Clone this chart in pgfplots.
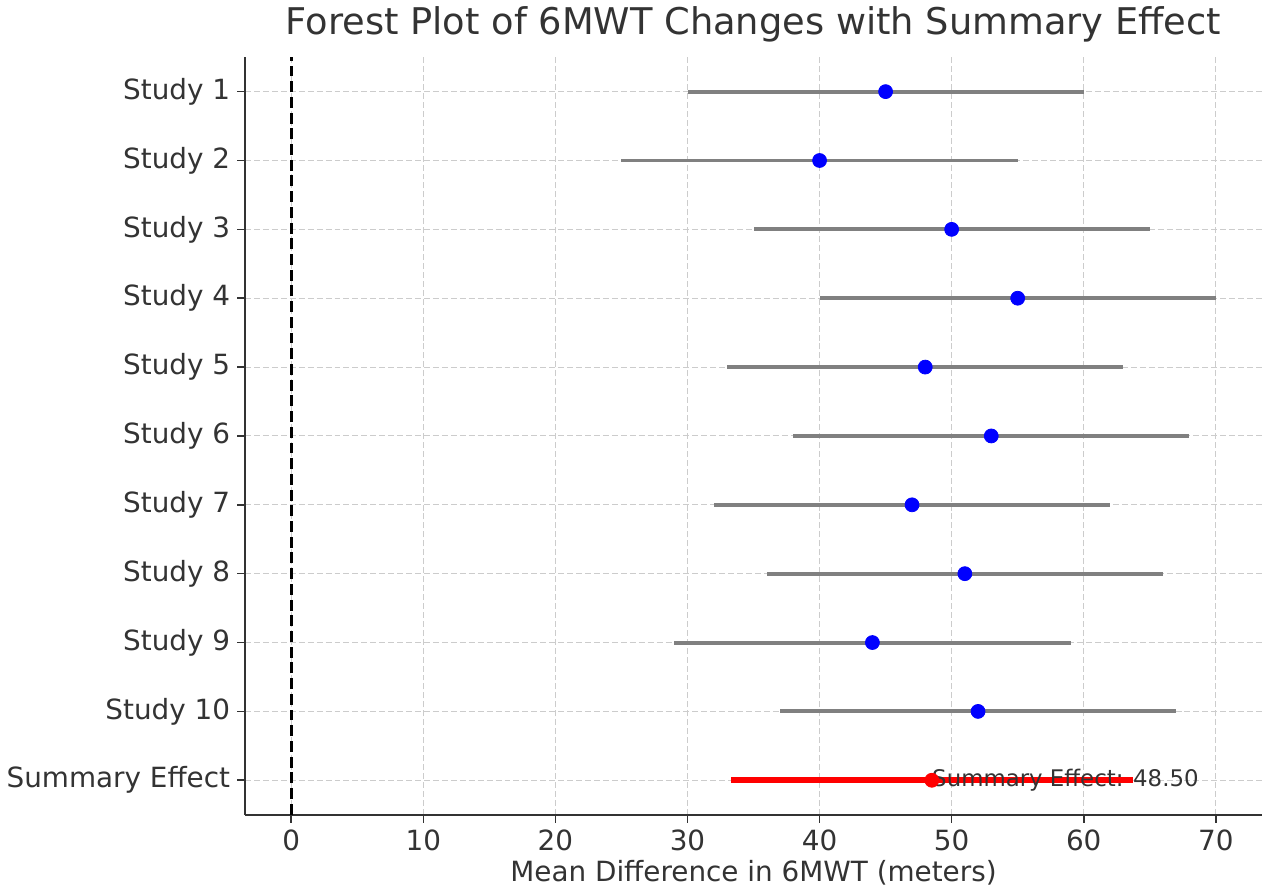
\documentclass[border=0pt]{standalone}
\usepackage{fontspec}
\setmainfont{DejaVu Sans}
\usepackage{pgfplots}
\pgfplotsset{compat=1.18}
\definecolor{txt}{HTML}{333333}
\definecolor{cigray}{HTML}{808080}
\definecolor{gridgray}{HTML}{CCCCCC}

\pgfplotstableread{
y mean err
10 45 15
9 40 15
8 50 15
7 55 15
6 48 15
5 53 15
4 47 15
3 51 15
2 44 15
1 52 15
}\studies

\begin{document}
\begin{tikzpicture}
\begin{axis}[
    scale only axis,
    width=511.5pt, height=381pt,
    xmin=-3.5, xmax=73.5,
    ymin=-0.5, ymax=10.5,
    axis lines*=left,
    axis line style={draw=txt, line width=1pt},
    xtick={0,10,...,70},
    ytick={0,...,10},
    yticklabels={Summary Effect, Study 10, Study 9, Study 8, Study 7, Study 6, Study 5, Study 4, Study 3, Study 2, Study 1},
    tick align=outside,
    tick style={draw=txt, line width=0.8pt},
    major tick length=4pt,
    tick label style={font=\fontsize{14}{16}\selectfont, text=txt},
    /pgf/number format/assume math mode=true,
    grid=major,
    grid style={draw=gridgray, line width=0.5pt, dash pattern=on 3pt off 1.5pt},
    xlabel={Mean Difference in 6MWT (meters)},
    xlabel style={font=\fontsize{14}{16}\selectfont, text=txt, yshift=2pt},
    title={Forest Plot of 6MWT Changes with Summary Effect},
    title style={font=\fontsize{18.5}{22}\selectfont, text=txt, yshift=-2pt},
    clip=false,
]
\addplot[black, line width=1.5pt, dash pattern=on 5.5pt off 2.4pt] coordinates {(0,-0.5) (0,10.5)};
\addplot[draw=none, mark=none, error bars/.cd, x dir=both, x explicit, error mark=none,
    error bar style={draw=cigray, line width=2pt}]
    table[x=mean, y=y, x error=err] {\studies};
\addplot[only marks, mark=*, mark size=3.5pt, color=blue, fill=blue] table[x=mean, y=y] {\studies};
\addplot[draw=none, mark=none, error bars/.cd, x dir=both, x explicit, error mark=none,
    error bar style={draw=red, line width=3pt}]
    coordinates {(48.5,0) +- (15.2,0)};
\addplot[only marks, mark=*, mark size=3.5pt, color=red, fill=red] coordinates {(48.5,0)};
\node[anchor=west, inner sep=0pt, text=txt, font=\fontsize{11.5}{13}\selectfont] at (axis cs:48.5,0) {Summary Effect: 48.50};
\end{axis}
\end{tikzpicture}
\end{document}
